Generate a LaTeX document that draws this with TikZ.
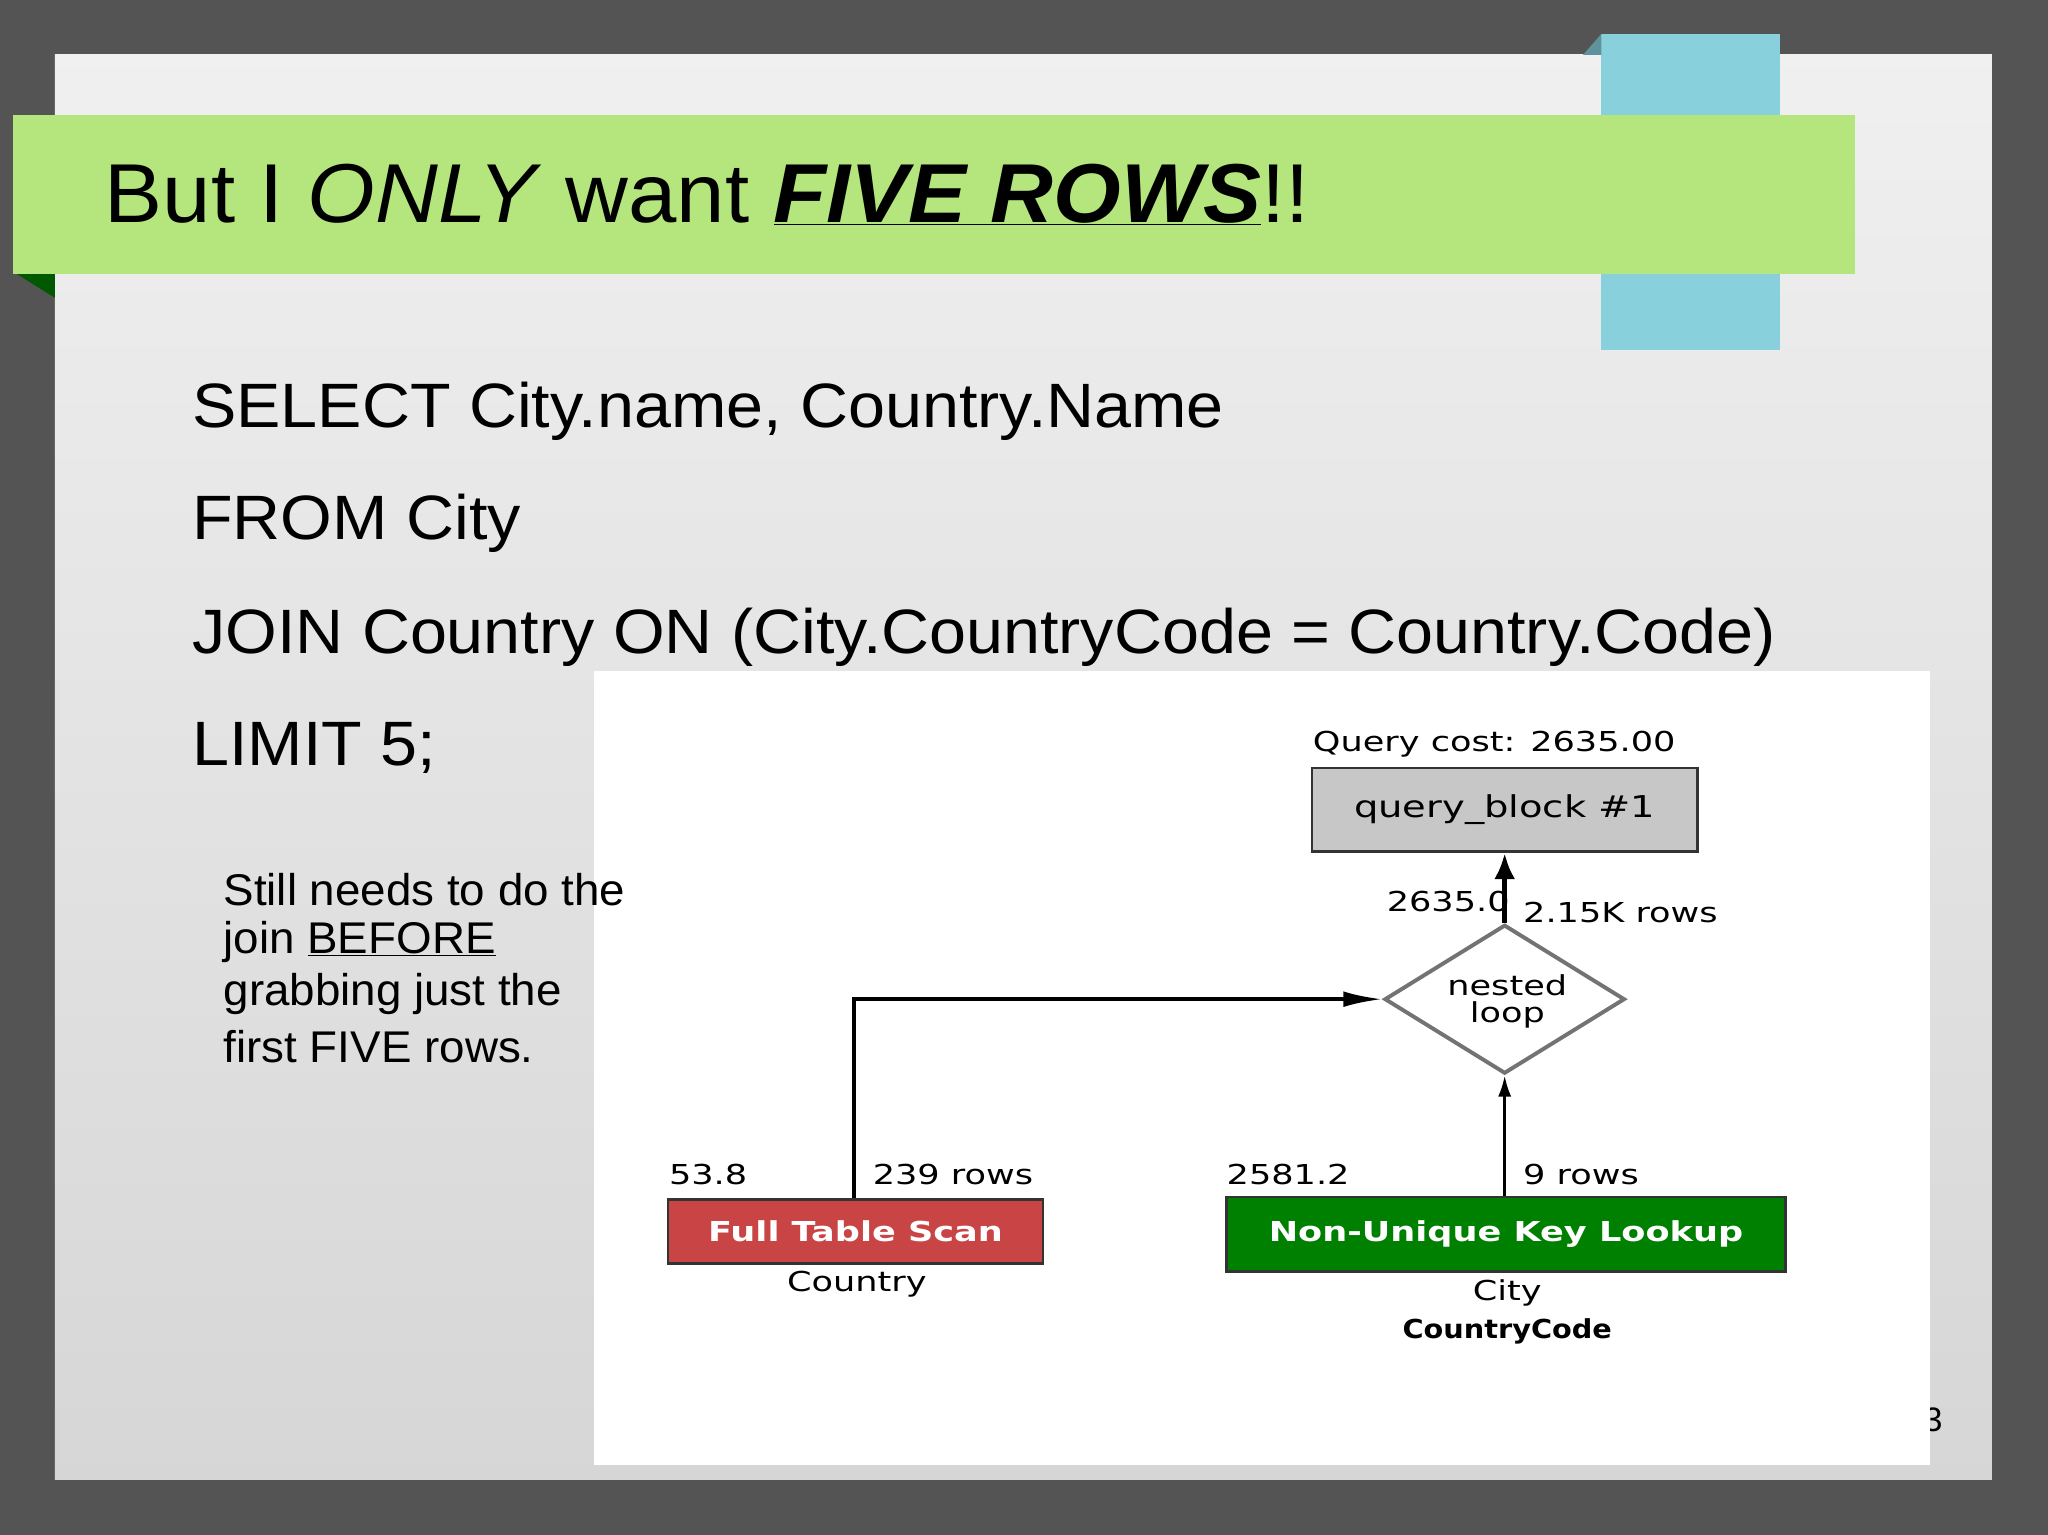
\documentclass[tikz,border=0pt]{standalone}
\usepackage{fontspec}
\setmainfont{Liberation Sans}
\newfontfamily\djfont{DejaVu Sans}
\usetikzlibrary{arrows.meta,shapes.geometric}
\definecolor{bannergreen}{HTML}{B5E67E}
\definecolor{tabblue}{HTML}{88D0DC}
\definecolor{redbox}{HTML}{C94444}
\definecolor{greenbox}{HTML}{008000}
\newcommand\sx[1]{\scalebox{1.28}[1]{#1}}
\newcommand\sq[1]{\scalebox{1.06}[1]{#1}}
\tikzset{
 sqltxt/.style={anchor=base west,font=\fontsize{48}{48}\selectfont,inner sep=0},
 notetxt/.style={anchor=west,font=\fontsize{34}{34}\selectfont,inner sep=0},
 lbl/.style={font=\djfont\fontsize{21}{21}\selectfont,inner sep=0},
 conn/.style={line width=4pt,-{Latex[length=20pt,width=16pt]}},
}
\begin{document}
\begin{tikzpicture}[x=1pt,y=-1pt]
\useasboundingbox (0,0) rectangle (1568,1175);
\fill[black!67] (0,0) rectangle (1568,1175);
\shade[top color=white!94!black,bottom color=white!84!black] (42,42) rectangle (1525,1133);
\fill[tabblue] (1226,26) rectangle (1363,268);
\fill[tabblue!70!black] (1212,42) -- (1226,26) -- (1226,42) -- cycle;
\fill[green!35!black] (10,208) -- (42,228) -- (42,208) -- cycle;
\fill[bannergreen] (10,88) rectangle (1420,210);
\node[anchor=base west,inner sep=0,font=\fontsize{64}{64}\selectfont] (title) at (80,170)
 {\scalebox{1.04}[1]{But I \textit{ONLY} want \textbf{\textit{\underline{FIVE ROWS}}}!!}};
\node[sqltxt] (l1) at (147,327) {\sq{SELECT City.name, Country.Name}};
\node[sqltxt] (l2) at (147,413) {\sq{FROM City}};
\node[sqltxt] (l3) at (147,500) {\sq{JOIN Country ON (City.CountryCode = Country.Code)}};
\node[sqltxt] (l4) at (147,586) {\sq{LIMIT 5;}};
\node[font=\fontsize{26}{26}\selectfont,inner sep=0] (pg) at (1480,1087) {3};
\fill[white] (455,514) rectangle (1478,1122);
\node[notetxt] (n1) at (171,681) {\scalebox{1.03}[1]{Still needs to do the}};
\node[notetxt] (n2) at (171,721) {\scalebox{1.03}[1]{join \underline{BEFORE}}};
\node[notetxt] (n3) at (171,761) {\scalebox{1.03}[1]{grabbing just the}};
\node[notetxt] (n4) at (171,801) {\scalebox{1.03}[1]{first FIVE rows.}};
\node[lbl] (qc) at (1144,570) {\sx{Query cost: 2635.00}};
\node[draw=black!80,line width=2pt,fill=black!22,minimum width=295pt,minimum height=64pt,font=\djfont\fontsize{23}{23}\selectfont] (qb) at (1152,620) {\sx{query\_block \#1}};
\node[draw=black!55,line width=3pt,fill=white,shape=diamond,aspect=1.6,minimum width=184pt,minimum height=114pt,inner sep=0] (nl) at (1152,765) {};
\node[lbl] (nlt1) at (1154,754) {\sx{nested}};
\node[lbl] (nlt2) at (1154,777) {\sx{loop}};
\draw[conn] (nl.north) -- (qb.south);
\node[lbl,anchor=east] (c1) at (1156,690) {\sx{2635.0}};
\node[lbl,anchor=west] (r1) at (1166,699) {\sx{2.15K rows}};
\node[draw=black!80,line width=2pt,fill=redbox,minimum width=287pt,minimum height=49pt,text=white,font=\djfont\bfseries\fontsize{21}{21}\selectfont] (fts) at (655,943) {\sx{Full Table Scan}};
\node[draw=black!80,line width=2pt,fill=greenbox,minimum width=428pt,minimum height=57pt,text=white,font=\djfont\bfseries\fontsize{21}{21}\selectfont] (nuk) at (1153,945) {\sx{Non-Unique Key Lookup}};
\coordinate (bend) at (654,765);
\draw[line width=3pt,-{Latex[length=30pt,width=12pt]}] (fts.north -| bend) -- (bend) -- (nl.west);
\draw[line width=2pt,-{Latex[length=16pt,width=10pt]}] (nuk.north -| nl) -- (nl.south);
\node[lbl,anchor=west] (c2) at (512,899) {\sx{53.8}};
\node[lbl,anchor=west] (r2) at (668,899) {\sx{239 rows}};
\node[lbl] (t2) at (656,983) {\sx{Country}};
\node[lbl,anchor=west] (c3) at (939,899) {\sx{2581.2}};
\node[lbl,anchor=west] (r3) at (1166,899) {\sx{9 rows}};
\node[lbl] (t3) at (1154,990) {\sx{City}};
\node[lbl,font=\djfont\bfseries\fontsize{20}{20}\selectfont] (k3) at (1154,1019) {\scalebox{1.1}[1]{CountryCode}};
\end{tikzpicture}
\end{document}
